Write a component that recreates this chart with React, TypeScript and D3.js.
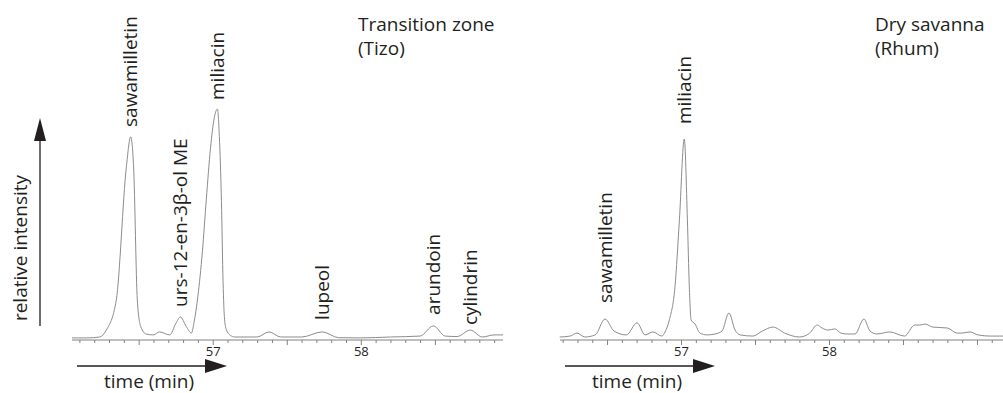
import { useEffect, useRef } from "react";
import * as d3 from "d3";

// chromatogram traces: [time (min), relative intensity %]
const tizoTime = [56.05, 56.15, 56.236, 56.282, 56.349, 56.417, 56.446, 56.466, 56.491, 56.514, 56.55, 56.6, 56.64, 56.71, 56.75, 56.782, 56.82, 56.856, 56.875, 56.9, 56.93, 56.957, 56.985, 57.01, 57.032, 57.045, 57.059, 57.07, 57.08, 57.093, 57.12, 57.149, 57.3, 57.38, 57.46, 57.6, 57.74, 57.85, 58.0, 58.2, 58.4, 58.49, 58.57, 58.65, 58.74, 58.82, 58.9, 58.96];
const tizoIntensity = [0.9, 0.9, 1.3, 4.3, 17.3, 74.9, 87.9, 74.9, 17.3, 5.8, 2.6, 2.2, 3.5, 2.2, 7, 10, 6, 3.0, 8, 19, 38, 61, 83, 96, 100, 88, 60, 25, 9, 4.3, 2, 1.3, 1.3, 3.5, 1.3, 1.3, 3.5, 1.0, 0.9, 1.3, 1.7, 6.1, 1.7, 1.5, 4.3, 1.3, 2.2, 2.2];

const rhumTime = [56.18, 56.25, 56.297, 56.35, 56.42, 56.486, 56.547, 56.63, 56.703, 56.757, 56.81, 56.87, 56.892, 56.921, 56.959, 56.989, 57.022, 57.043, 57.056, 57.068, 57.095, 57.128, 57.176, 57.23, 57.277, 57.324, 57.365, 57.4, 57.486, 57.55, 57.622, 57.7, 57.8, 57.87, 57.92, 57.953, 57.993, 58.04, 58.08, 58.12, 58.176, 58.236, 58.277, 58.324, 58.41, 58.51, 58.58, 58.615, 58.65, 58.7, 58.8, 58.865, 58.9, 58.953, 59.007, 59.09, 59.176];
const rhumIntensity = [1.3, 1.7, 3.0, 1.3, 2.2, 9.1, 3.9, 2.2, 7.4, 2.2, 3.5, 1.7, 3.5, 8.7, 23, 52, 87, 52, 23, 8.7, 6.9, 3.0, 2.2, 2.6, 3.9, 11.7, 4.3, 2.2, 1.7, 3.9, 5.6, 3.0, 1.3, 3.0, 6.5, 5.2, 4.3, 4.8, 3.0, 2.6, 2.6, 9.1, 3.9, 2.6, 3.5, 1.7, 6.5, 6.5, 6.9, 5.6, 5.2, 3.0, 3.0, 3.5, 2.2, 1.7, 1.7];

const tizoPeaks = ["sawamilletin", "urs-12-en-3β-ol ME", "miliacin", "lupeol", "arundoin", "cylindrin"];
const tizoPeakTimes = [56.446, 56.782, 57.032, 57.74, 58.49, 58.74];
const rhumPeaks = ["sawamilletin", "miliacin"];
const rhumPeakTimes = [56.486, 57.022];

const tickLabels = [57, 58];
const titles = [["Transition zone", "(Tizo)"], ["Dry savanna", "(Rhum)"]];

const W = 1003;
const H = 393;
const FONT = "'Open Sans', sans-serif";
const INK = "#231f20";

export default function App() {
  const svgRef = useRef<SVGSVGElement | null>(null);

  useEffect(() => {
    const svg = d3.select(svgRef.current);
    svg.selectAll("*").remove();

    const yScale = d3.scaleLinear().domain([0, 100]).range([340, 109]);

    const panels = [
      { time: tizoTime, val: tizoIntensity, names: tizoPeaks, pt: tizoPeakTimes, dom: [56.05, 58.96], rng: [72, 503], title: titles[0], tx: 358, gaps: [10, 10, 9, 12, 11, 5] },
      { time: rhumTime, val: rhumIntensity, names: rhumPeaks, pt: rhumPeakTimes, dom: [56.182, 59.176], rng: [560, 1003], title: titles[1], tx: 875, gaps: [16, 15] },
    ];

    panels.forEach((p) => {
      const x = d3.scaleLinear().domain(p.dom).range(p.rng);
      const g = svg.append("g");

      // axis with minor ticks every 0.1 min
      const minor = d3.range(Math.ceil(p.dom[0] * 10), Math.floor(p.dom[1] * 10) + 1).map((d) => d / 10);
      const axis = d3
        .axisBottom(x)
        .tickValues(minor)
        .tickSize(3)
        .tickFormat((d: any) => (tickLabels.includes(Math.round(d * 10) / 10) && Math.abs(d - Math.round(d)) < 1e-6 ? String(Math.round(d)) : ""));
      const ax = g.append("g").attr("transform", "translate(0,340)").call(axis);
      ax.select(".domain").attr("stroke", "#808080").attr("d", `M${p.rng[0]},0H${p.rng[1]}`);
      ax.selectAll(".tick line")
        .attr("stroke", "#808080")
        .attr("y2", (d: any) => (Math.abs(d * 2 - Math.round(d * 2)) < 1e-6 ? 5 : 3));
      ax.selectAll(".tick text")
        .attr("y", 7)
        .attr("font-family", FONT)
        .attr("font-size", 13)
        .attr("fill", INK);

      const line = d3
        .line<number>()
        .x((_, i) => x(p.time[i]))
        .y((d) => yScale(d))
        .curve(d3.curveMonotoneX);

      g.append("path")
        .datum(p.val)
        .attr("d", line)
        .attr("fill", "none")
        .attr("stroke", "#8c8c8c")
        .attr("stroke-width", 1);

      // peak labels
      p.names.forEach((name, i) => {
        const t = p.pt[i];
        const idx = d3.minIndex(p.time, (v) => Math.abs(v - t));
        const px = x(t);
        const py = yScale(p.val[idx]) - p.gaps[i];
        g.append("text")
          .attr("transform", `translate(${px},${py}) rotate(-90)`)
          .attr("dy", "0.35em")
          .attr("font-family", FONT)
          .attr("font-size", 19)
          .attr("fill", INK)
          .text(name);
      });

      // title
      const tt = g.append("text").attr("font-family", FONT).attr("font-size", 19).attr("fill", INK);
      tt.append("tspan").attr("x", p.tx).attr("y", 31).text(p.title[0]);
      tt.append("tspan").attr("x", p.tx).attr("y", 55).text(p.title[1]);

      // time arrow
      const a0 = p.rng[0] + 5;
      const a1 = a0 + 150;
      g.append("line").attr("x1", a0).attr("x2", a1 - 20).attr("y1", 366).attr("y2", 366).attr("stroke", INK).attr("stroke-width", 1.3);
      g.append("path").attr("d", `M${a1 - 22},359L${a1},366L${a1 - 22},373Z`).attr("fill", INK);
      g.append("text")
        .attr("x", a0 + 27)
        .attr("y", 388)
        .attr("font-family", FONT)
        .attr("font-size", 19)
        .attr("fill", INK)
        .text("time (min)");
    });

    // intensity arrow
    svg.append("line").attr("x1", 40).attr("x2", 40).attr("y1", 326).attr("y2", 138).attr("stroke", INK).attr("stroke-width", 1.3);
    svg.append("path").attr("d", "M34,141L40,118L46,141Z").attr("fill", INK);
    svg.append("text")
      .attr("transform", "translate(20,248) rotate(-90)")
      .attr("text-anchor", "middle")
      .attr("dy", "0.35em")
      .attr("font-family", FONT)
      .attr("font-size", 19)
      .attr("fill", INK)
      .text("relative intensity");
  }, []);

  return <svg ref={svgRef} width={W} height={H} style={{ position: "absolute", left: 0, top: 0, background: "#fff" }}></svg>;
}
